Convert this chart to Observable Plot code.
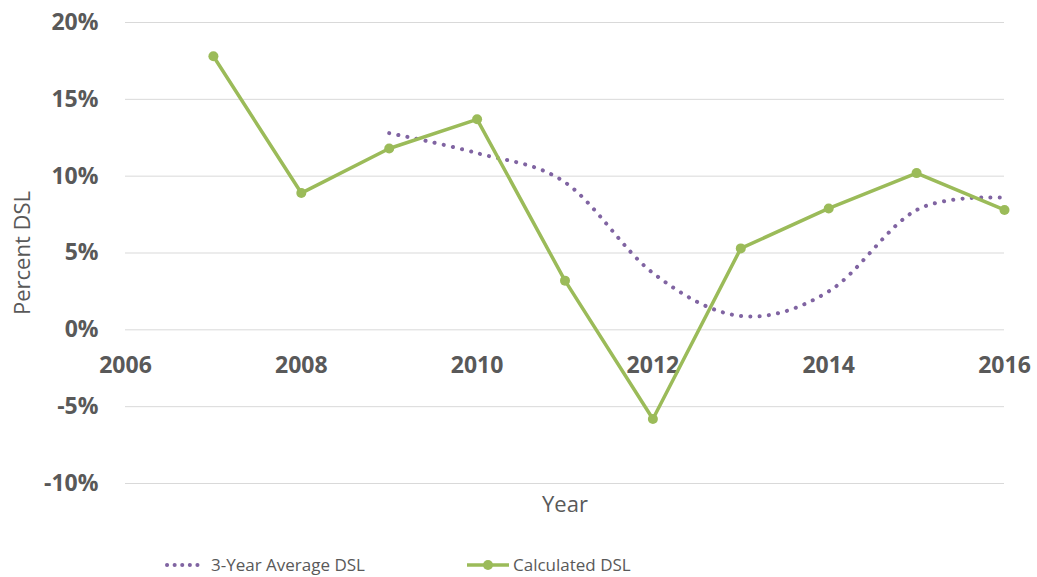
<!DOCTYPE html>
<html>
<head>
<meta charset="utf-8">
<script src="https://cdn.jsdelivr.net/npm/d3@7"></script>
<script src="https://cdn.jsdelivr.net/npm/@observablehq/plot@0.6"></script>
<style>
  html, body { margin: 0; padding: 0; background: #fff; }
  body { width: 1037px; height: 577px; overflow: hidden; font-family: "Open Sans", sans-serif; color: #595959; }
  #legend { position: relative; height: 37px; font-size: 17px; }
  .item { position: absolute; top: 6px; height: 37px; display: flex; align-items: center; }
  .item svg { margin-right: 4px; }
</style>
</head>
<body>
<div id="chart"></div>
<div id="legend"></div>
<script>
// Annual DSL rates (percent)
const years = [2007, 2008, 2009, 2010, 2011, 2012, 2013, 2014, 2015, 2016];
const calculatedDSL = [17.8, 8.9, 11.8, 13.7, 3.2, -5.8, 5.3, 7.9, 10.2, 7.8];

// Rolling three-year average, available from 2009
const avgYears = [2009, 2010, 2011, 2012, 2013, 2014, 2015, 2016];
const avgDSL = [12.8, 11.5, 9.6, 3.7, 0.9, 2.5, 7.8, 8.6];

const xTicks = [2006, 2008, 2010, 2012, 2014, 2016];
const yTicks = [-10, -5, 0, 5, 10, 15, 20];

const seriesNames = ["3-Year Average DSL", "Calculated DSL"];
const colors = ["#8064A2", "#9BBB59"];

const calc = years.map((y, i) => ({year: y, value: calculatedDSL[i]}));
const avg = avgYears.map((y, i) => ({year: y, value: avgDSL[i]}));

const textColor = "#595959";

const chart = Plot.plot({
  width: 1037,
  height: 540,
  marginTop: 22,
  marginBottom: 57,
  marginLeft: 125,
  marginRight: 33,
  style: {fontFamily: "'Open Sans', sans-serif", color: textColor, background: "#fff"},
  x: {domain: [2006, 2016], axis: null},
  y: {domain: [-10, 20]},
  marks: [
    Plot.gridY(yTicks, {stroke: "#d9d9d9", strokeOpacity: 1, strokeWidth: 1}),
    Plot.axisY(yTicks, {
      tickSize: 0, tickPadding: 27, tickFormat: d => d + "%",
      fontSize: 23, fontWeight: "bold", fill: textColor, label: null
    }),
    Plot.text(xTicks, {
      x: d => d, y: 0, dy: 36, text: d => String(d),
      fontSize: 23, fontWeight: "bold", fill: textColor
    }),
    Plot.text(["Percent DSL"], {
      frameAnchor: "left", textAnchor: "middle", dx: -103, rotate: -90,
      fontSize: 22, fill: textColor
    }),
    Plot.text(["Year"], {
      frameAnchor: "bottom", dy: 28,
      fontSize: 22, fill: textColor
    }),
    Plot.line(avg, {
      x: "year", y: "value", curve: "cardinal", tension: 0,
      stroke: colors[0], strokeWidth: 4, strokeDasharray: "0.1 9.2", strokeLinecap: "round"
    }),
    Plot.line(calc, {x: "year", y: "value", stroke: colors[1], strokeWidth: 3.5}),
    Plot.dot(calc, {x: "year", y: "value", r: 5, fill: colors[1], stroke: "none"})
  ]
});
document.getElementById("chart").append(chart);

// Legend below the plot
const legend = d3.select("#legend");
const lefts = [165, 467];
seriesNames.forEach((name, i) => {
  const item = legend.append("div").attr("class", "item").style("left", lefts[i] + "px");
  const sw = item.append("svg").attr("width", 42).attr("height", 12);
  if (i === 0) {
    sw.append("line").attr("x1", 2).attr("x2", 40).attr("y1", 6).attr("y2", 6)
      .attr("stroke", colors[0]).attr("stroke-width", 4)
      .attr("stroke-dasharray", "0.1 7.5").attr("stroke-linecap", "round");
  } else {
    sw.append("line").attr("x1", 0).attr("x2", 42).attr("y1", 6).attr("y2", 6)
      .attr("stroke", colors[1]).attr("stroke-width", 3.5);
    sw.append("circle").attr("cx", 21).attr("cy", 6).attr("r", 5).attr("fill", colors[1]);
  }
  item.append("span").text(name);
});
</script>
</body>
</html>
